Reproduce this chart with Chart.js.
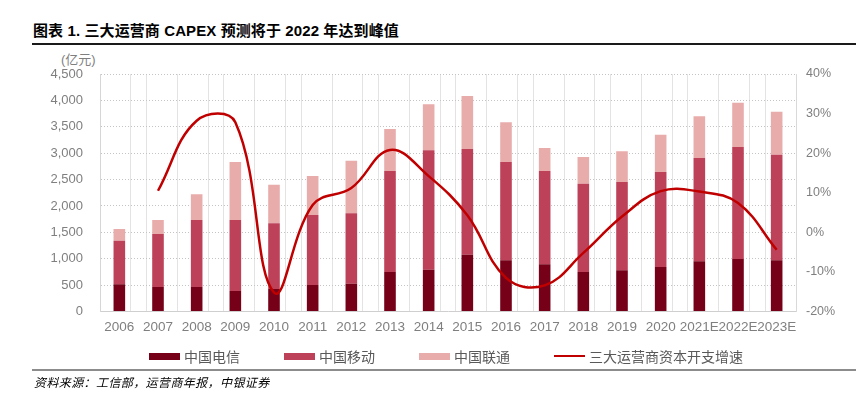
<!DOCTYPE html>
<html><head><meta charset="utf-8">
<script src="https://cdn.jsdelivr.net/npm/chart.js@4.4.0/dist/chart.umd.min.js"></script>
<style>
html,body{margin:0;padding:0;background:#fff;}
#wrap{position:relative;width:862px;height:398px;overflow:hidden;font-family:"Liberation Sans","Noto Sans CJK SC",sans-serif;}
#cv{position:absolute;left:0;top:0;}
#title{position:absolute;left:33px;top:22px;font-size:15px;line-height:18px;font-weight:bold;color:#000;letter-spacing:0.1px;white-space:nowrap;}
#tline{position:absolute;left:32px;top:43px;width:824px;height:2px;background:#1a1a1a;}
#unit{position:absolute;left:61px;top:51px;font-size:13px;line-height:17px;color:#7f7f7f;white-space:nowrap;}
#legend{position:absolute;left:149px;top:347px;height:18px;display:flex;align-items:center;}
.li{display:flex;align-items:center;width:135px;font-size:14px;color:#595959;white-space:nowrap;}
.li:last-child{width:auto;}
.sw{display:inline-block;width:31px;margin-right:4px;}
#bline{position:absolute;left:32px;top:369px;width:824px;height:2px;background:#8c8c8c;}
#source{position:absolute;left:34px;top:375px;font-size:12px;line-height:16px;font-style:italic;color:#000;letter-spacing:0.4px;white-space:nowrap;}
</style></head><body>
<div id="wrap">
<div id="title">图表 1. 三大运营商 CAPEX 预测将于 2022 年达到峰值</div>
<div id="tline"></div>
<div id="unit">(亿元)</div>
<canvas id="cv" width="862" height="398"></canvas>
<div id="legend"></div>
<div id="bline"></div>
<div id="source">资料来源：工信部，运营商年报，中银证券</div>
</div>
<script>
const categories = ['2006','2007','2008','2009','2010','2011','2012','2013','2014','2015','2016','2017','2018','2019','2020','2021E','2022E','2023E'];
const seriesNames = ['中国电信','中国移动','中国联通','三大运营商资本开支增速'];
const telecom = [515, 464, 464, 388, 426, 502, 527, 748, 792, 1076, 970, 894, 748, 780, 843, 951, 995, 970];
const mobile  = [827, 1004, 1270, 1346, 1245, 1327, 1333, 1914, 2262, 2003, 1863, 1768, 1674, 1673, 1800, 1957, 2122, 2001];
const unicom  = [221, 266, 486, 1099, 732, 738, 997, 795, 871, 1004, 752, 436, 505, 582, 707, 790, 839, 815];
const growth  = [null, 10.5, 28.2, 27.8, -15.2, 6.9, 11.2, 20.8, 14.2, 4.3, -11.5, -13.4, -5.2, 4.0, 10.4, 10.3, 7.4, -4.4];
const leftTickValues = [0, 500, 1000, 1500, 2000, 2500, 3000, 3500, 4000, 4500];
const rightTickValues = [-20, -10, 0, 10, 20, 30, 40];

const colors = ['#760018', '#be415a', '#e8adab', '#c00000'];
const FONT = '"Liberation Sans","Noto Sans CJK SC",sans-serif';

// vertical grid positions (in category units across the plot width)
const gridPos = [];
for (let k = 0; k <= categories.length; k++) {
  if (k % 2 === 0) gridPos.push(k); else { gridPos.push(k - 0.2); gridPos.push(k + 0.2); }
}

const chart = new Chart(document.getElementById('cv'), {
  data: {
    labels: categories,
    datasets: [
      {type:'bar', label: seriesNames[0], data: telecom, backgroundColor: colors[0], borderWidth:0, stack:'s', yAxisID:'y', xAxisID:'x', barPercentage:0.3, categoryPercentage:1, order:1},
      {type:'bar', label: seriesNames[1], data: mobile, backgroundColor: colors[1], borderWidth:0, stack:'s', yAxisID:'y', xAxisID:'x', barPercentage:0.3, categoryPercentage:1, order:1},
      {type:'bar', label: seriesNames[2], data: unicom, backgroundColor: colors[2], borderWidth:0, stack:'s', yAxisID:'y', xAxisID:'x', barPercentage:0.3, categoryPercentage:1, order:1},
      {type:'line', label: seriesNames[3], data: growth, borderColor: colors[3], backgroundColor: colors[3], borderWidth:2.5, pointRadius:0, tension:0.4, fill:false, yAxisID:'y1', xAxisID:'x', order:0}
    ]
  },
  options: {
    responsive:false, animation:false, devicePixelRatio:1,
    layout:{padding:{top:74, bottom:61.5, left:0, right:0}},
    plugins:{legend:{display:false}, tooltip:{enabled:false}},
    scales:{
      x:{type:'category', position:'bottom', stacked:true, offset:true,
         grid:{display:false, drawTicks:false},
         border:{display:true, color:'#cfcfcf', width:1},
         ticks:{color:'#7f7f7f', font:{family:FONT, size:13.5}, maxRotation:0, minRotation:0, autoSkip:false, padding:8},
         afterFit:s=>{s.height=25;}},
      xg:{type:'linear', position:'bottom', min:0, max:categories.length,
         ticks:{display:false}, grid:{color:'#e3e3e3', drawTicks:false, lineWidth:1},
         border:{display:false},
         afterBuildTicks:s=>{s.ticks = gridPos.map(v=>({value:v}));},
         afterFit:s=>{s.height=0;}},
      y:{type:'linear', position:'left', stacked:true, min:0, max:4500,
         afterBuildTicks:s=>{s.ticks = leftTickValues.map(v=>({value:v}));},
         ticks:{color:'#7f7f7f', font:{family:FONT, size:13}, padding:17, callback:v=>v.toLocaleString('en-US')},
         grid:{color:'#c4c4c4', drawTicks:false},
         border:{display:true, color:'#d6d6d6', dash:[1,2]},
         afterFit:s=>{s.width=100;}},
      y1:{type:'linear', position:'right', min:-20, max:40,
         afterBuildTicks:s=>{s.ticks = rightTickValues.map(v=>({value:v}));},
         ticks:{color:'#7f7f7f', font:{family:FONT, size:12.5}, padding:10, callback:v=>v+'%'},
         grid:{drawOnChartArea:false, drawTicks:false},
         border:{display:true, color:'#d9d9d9'},
         afterFit:s=>{s.width=66;}}
    }
  }
});

// HTML legend built from the chart's datasets
const lg = document.getElementById('legend');
chart.data.datasets.forEach(ds => {
  const item = document.createElement('span'); item.className='li';
  const sw = document.createElement('span'); sw.className='sw';
  if (ds.type === 'line') { sw.style.height='2.5px'; sw.style.background=ds.borderColor; }
  else { sw.style.height='7px'; sw.style.background=ds.backgroundColor; }
  item.appendChild(sw);
  item.appendChild(document.createTextNode(ds.label));
  lg.appendChild(item);
});
</script>
</body></html>
